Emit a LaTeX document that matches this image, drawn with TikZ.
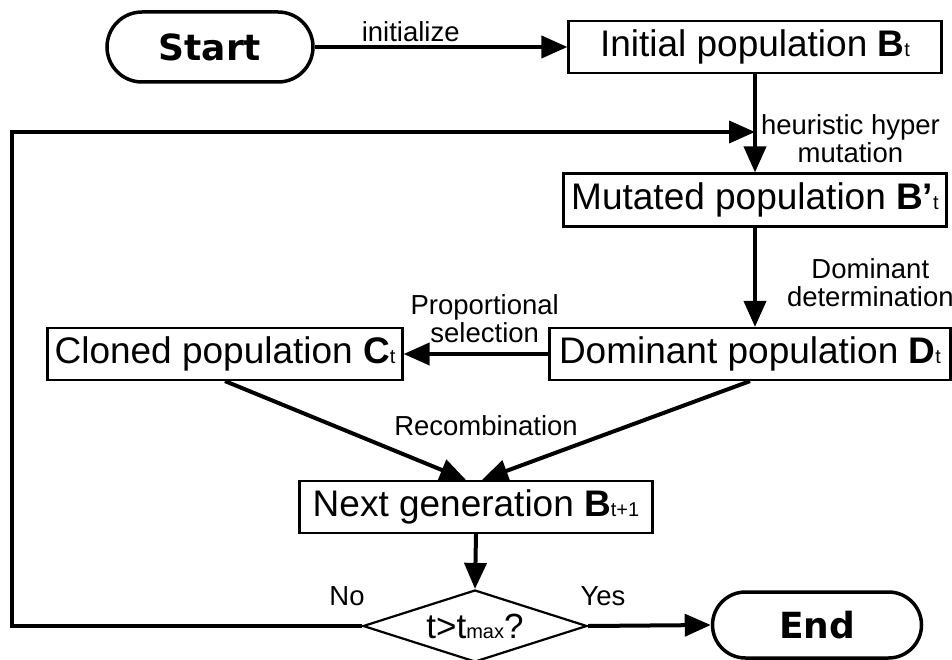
\documentclass[tikz,border=0pt]{standalone}
\usepackage{fontspec}
\setmainfont{Liberation Sans}
\newfontfamily\heavyfont{DejaVu Sans}
\usetikzlibrary{arrows.meta,shapes.geometric,shapes.misc}
\newcommand{\lowsub}[1]{{\fontsize{20}{20}\selectfont #1}}

\begin{document}
\begin{tikzpicture}[x=1pt,y=-1pt,>={Triangle[length=26pt,width=22pt]},
    stepbox/.style={draw,line width=2.2pt,minimum height=52pt,inner sep=0pt,font=\fontsize{37}{40}\selectfont},
    terminal/.style={draw,rounded rectangle,line width=3.5pt,inner sep=0pt,font=\heavyfont\bfseries\fontsize{36}{38}\selectfont},
    flow/.style={->,line width=4pt},
    note/.style={font=\fontsize{27.5}{28}\selectfont,align=center,inner sep=0pt}]
    \useasboundingbox (0,0) rectangle (952,660);

    \node[terminal,minimum width=206pt,minimum height=70pt] (start) at (210,47) {Start};
    \node[stepbox,minimum width=373pt] (init) at (755,47) {Initial population \textbf{B}\lowsub{t}};
    \node[stepbox,minimum width=383pt,minimum height=53pt] (mut) at (755,200) {Mutated population \textbf{B’}\lowsub{t}};
    \node[stepbox,minimum width=401pt] (dom) at (750,354) {Dominant population \textbf{D}\lowsub{t}};
    \node[stepbox,minimum width=355pt] (clone) at (225,354) {Cloned population \textbf{C}\lowsub{t}};
    \node[stepbox,minimum width=353pt] (next) at (476,507) {Next generation \textbf{B}\lowsub{t+1}};
    \node[draw,diamond,line width=2.2pt,minimum width=224pt,minimum height=72pt,inner sep=0pt,aspect=3,
        font=\fontsize{35}{36}\selectfont] (test) at (475,626) {t>t\lowsub{max}?};
    \node[terminal,minimum width=209pt,minimum height=66pt] (end) at (817,625) {End};
    \coordinate (back) at (12,132);

    \draw[flow] (start.east) -- node[note,above=3pt,pos=0.38]{initialize} (init.west);
    \draw[flow] (init.south) -- node[note,right=4pt,pos=0.66]{heuristic hyper\\mutation} (mut.north);
    \draw[flow] (mut.south) -- node[note,right=30pt,pos=0.55]{Dominant\\determination} (mut.south |- dom.north);
    \draw[flow] (dom.west) -- node[note,above=9pt,pos=0.44]{Proportional\\selection} (clone.east);
    \draw[flow] (clone.south) -- ([xshift=-10pt]next.north);
    \draw[flow] (dom.south) -- ([xshift=6pt]next.north);
    \node[note] (recomb) at (486,426) {Recombination};
    \draw[flow] (next.south) -- (test.north);
    \draw[flow] (test.east) -- (end.west);
    \draw[flow] (test.west) -| (back) -- (back -| init.south);
    \node[note] (no) at (347,596) {No};
    \node[note] (yes) at (603,596) {Yes};
\end{tikzpicture}
\end{document}
